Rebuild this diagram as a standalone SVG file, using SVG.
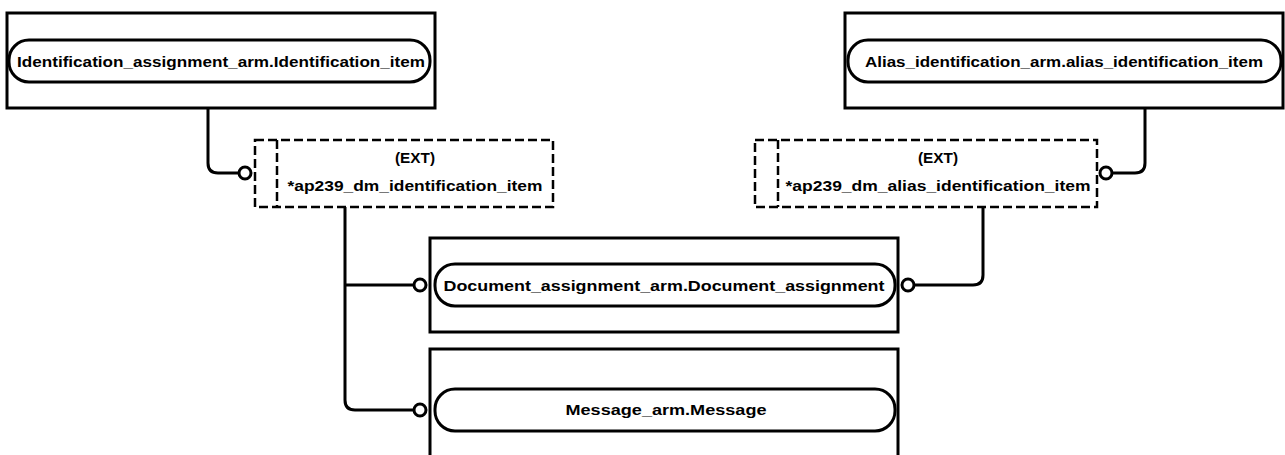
<svg xmlns="http://www.w3.org/2000/svg" width="1285" height="455" viewBox="0 0 1285 455">
<style>
.box{fill:#fff;stroke:#000;stroke-width:3}
.pill{fill:#fff;stroke:#000;stroke-width:3}
.sel{fill:#fff;stroke:#000;stroke-width:2.5;stroke-dasharray:9 4}
.selin{fill:none;stroke:#000;stroke-width:2.5;stroke-dasharray:9 4}
.lbl{font-family:"Liberation Sans",Arial,sans-serif;font-weight:bold;font-size:15px;fill:#000;text-anchor:middle}
.con{fill:none;stroke:#000;stroke-width:3}
.end{fill:#fff;stroke:#000;stroke-width:3}
</style>
<rect width="1285" height="455" fill="#fff"/>
<g id="connectors">
<path class="con" d="M208,108 V163 Q208,173 218,173 H239"/>
<path class="con" d="M1145,108 V163 Q1145,173 1135,173 H1112"/>
<path class="con" d="M345,207 V400 Q345,410 355,410 H414"/>
<path class="con" d="M345,285 H414"/>
<path class="con" d="M914,285 H973 Q983,285 983,275 V207"/>
<circle class="end" cx="245" cy="173" r="6"/>
<circle class="end" cx="1106" cy="173" r="6"/>
<circle class="end" cx="420" cy="285" r="6"/>
<circle class="end" cx="908" cy="285" r="6"/>
<circle class="end" cx="420" cy="410" r="6"/>
</g>
<g id="identification_item">
<rect class="box" x="7" y="13" width="428" height="95"/>
<rect class="pill" x="9" y="40" width="421" height="42" rx="20"/>
<text class="lbl" x="221" y="67" textLength="408" lengthAdjust="spacingAndGlyphs">Identification_assignment_arm.Identification_item</text>
</g>
<g id="alias_identification_item">
<rect class="box" x="845" y="13" width="438" height="95"/>
<rect class="pill" x="848" y="40" width="433" height="42" rx="20"/>
<text class="lbl" x="1064" y="67" textLength="398" lengthAdjust="spacingAndGlyphs">Alias_identification_arm.alias_identification_item</text>
</g>
<g id="ap239_dm_identification_item">
<rect class="sel" x="255" y="140" width="298" height="67"/>
<line class="selin" x1="277" y1="140" x2="277" y2="207"/>
<text class="lbl" x="415" y="163" textLength="40" lengthAdjust="spacingAndGlyphs">(EXT)</text>
<text class="lbl" x="415" y="191" textLength="255" lengthAdjust="spacingAndGlyphs">*ap239_dm_identification_item</text>
</g>
<g id="ap239_dm_alias_identification_item">
<rect class="sel" x="755" y="140" width="342" height="67"/>
<line class="selin" x1="778" y1="140" x2="778" y2="207"/>
<text class="lbl" x="938" y="163" textLength="40" lengthAdjust="spacingAndGlyphs">(EXT)</text>
<text class="lbl" x="938" y="191" textLength="305" lengthAdjust="spacingAndGlyphs">*ap239_dm_alias_identification_item</text>
</g>
<g id="document_assignment">
<rect class="box" x="430" y="238" width="468" height="94"/>
<rect class="pill" x="435" y="264" width="460" height="42" rx="20"/>
<text class="lbl" x="664" y="291" textLength="441" lengthAdjust="spacingAndGlyphs">Document_assignment_arm.Document_assignment</text>
</g>
<g id="message">
<rect class="box" x="430" y="349" width="468" height="110"/>
<rect class="pill" x="435" y="389" width="460" height="42" rx="20"/>
<text class="lbl" x="666" y="415" textLength="201" lengthAdjust="spacingAndGlyphs">Message_arm.Message</text>
</g>
</svg>
